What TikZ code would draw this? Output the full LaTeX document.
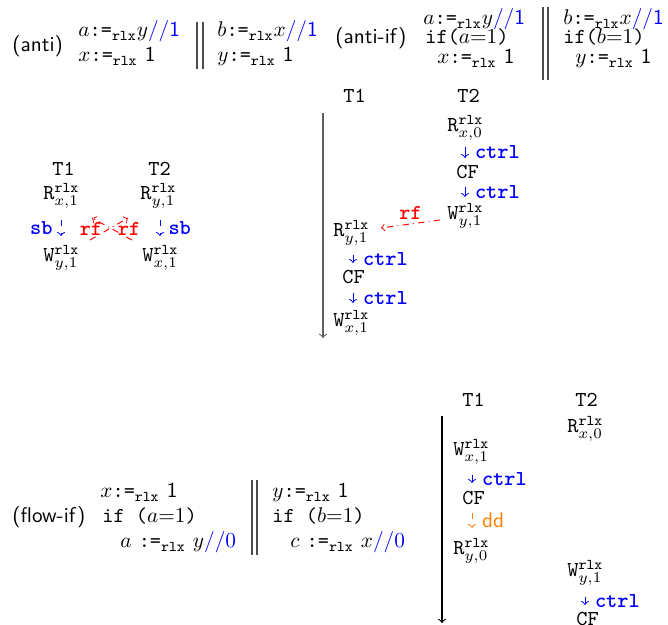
\documentclass[tikz,border=0pt]{standalone}
\usetikzlibrary{calc}
\definecolor{myorange}{RGB}{255,128,0}
\definecolor{tlgray}{RGB}{95,95,95}
\newcommand{\asgn}{\mbox{\texttt{:=}}_{\mathtt{rlx}}}
\newcommand{\evt}[3]{$\mathtt{#1}^{\mathtt{rlx}}_{#2,#3}$}
\begin{document}
\begin{tikzpicture}[x=0.47pt,y=-0.47pt,
  lbl/.style={anchor=base west,inner sep=0pt},
  prog/.style={lbl,font=\sffamily},
  bar/.style={black!70,line width=0.5pt},
  ctl/.style={->,blue,line width=0.45pt},
  ctllab/.style={right=4.5pt,inner sep=0pt,text=blue,font=\ttfamily\bfseries},
  sbarr/.style={->,blue,dashed,line width=0.45pt},
  sblab/.style={inner sep=0pt,text=blue,font=\ttfamily\bfseries},
  rfarr/.style={->,red,dash dot,line width=0.45pt},
  rflab/.style={inner sep=0pt,text=red,font=\ttfamily\bfseries},
  ddarr/.style={->,myorange,dashed,line width=0.45pt},
  ddlab/.style={right=4.5pt,inner sep=0pt,text=myorange,font=\sffamily},
  tline/.style={->,line width=0.5pt}]
\useasboundingbox (0,0) rectangle (668,625);

% ---------- (anti) program
\node[prog] (antin) at (12,52) {(anti)};
\node[lbl] (antia1) at (78,37) {$a\asgn y$\textcolor{blue}{$//$\textsf{1}}};
\node[lbl] (antia2) at (78,62) {$x\asgn$ \textsf{1}};
\draw[bar] (197,22) -- (197,69);
\draw[bar] (203,22) -- (203,69);
\node[lbl] (antib1) at (217,37) {$b\asgn x$\textcolor{blue}{$//$\textsf{1}}};
\node[lbl] (antib2) at (217,62) {$y\asgn$ \textsf{1}};

% ---------- (anti-if) program
\node[prog] (aifn) at (335,44) {(anti-if)};
\node[lbl] (aifa1) at (423,25) {$a\asgn y$\textcolor{blue}{$//$\textsf{1}}};
\node[lbl] (aifa2) at (425,44) {\texttt{if(}$a$=1\texttt{)}};
\node[lbl] (aifa3) at (437,64) {$x\asgn$ \textsf{1}};
\draw[bar] (543,7) -- (543,80);
\draw[bar] (548,7) -- (548,80);
\node[lbl] (aifb1) at (563,25) {$b\asgn x$\textcolor{blue}{$//$\textsf{1}}};
\node[lbl] (aifb2) at (563,44) {\texttt{if(}$b$=1\texttt{)}};
\node[lbl] (aifb3) at (575,64) {$y\asgn$ \textsf{1}};

% ---------- (anti) execution
\node[lbl] (lt1) at (52,176) {\texttt{T1}};
\node[lbl] (lt2) at (148,176) {\texttt{T2}};
\node[lbl] (lrx) at (43,200) {\evt{R}{x}{1}};
\node[lbl] (lwy) at (43,262) {\evt{W}{y}{1}};
\node[lbl] (lry) at (140,200) {\evt{R}{y}{1}};
\node[lbl] (lwx) at (142,262) {\evt{W}{x}{1}};
\draw[sbarr] ($(lrx.base west)+(18,20)$) -- ($(lwy.base west)+(18,-26)$)
  node[midway,left=3.8pt,sblab] {sb};
\draw[sbarr] ($(lry.base west)+(20,20)$) -- ($(lwx.base west)+(18,-26)$)
  node[midway,right=3.8pt,sblab] {sb};
\draw[rfarr] ($(lwx.base west)+(-10,-22)$) -- ($(lrx.base west)+(49,18)$)
  node[midway,xshift=-9.9pt,rflab] {rf};
\draw[rfarr] ($(lwy.base west)+(47,-22)$) -- ($(lry.base west)+(-12,18)$)
  node[midway,xshift=9.4pt,rflab] {rf};

% ---------- (anti-if) execution
\node[lbl] (mt1) at (343,103) {\texttt{T1}};
\node[lbl] (mt2) at (457,103) {\texttt{T2}};
\coordinate (mtls) at (323,113);
\coordinate (mtle) at (323,338);
\draw[tline,tlgray] (mtls) -- (mtle);
\node[lbl] (mrx) at (447,132) {\evt{R}{x}{0}};
\node[lbl] (mcf2) at (456,179) {\texttt{CF}};
\node[lbl] (mwy) at (447,220) {\evt{W}{y}{1}};
\node[lbl] (mry) at (333,237) {\evt{R}{y}{1}};
\node[lbl] (mcf1) at (342,284) {\texttt{CF}};
\node[lbl] (mwx) at (333,327) {\evt{W}{x}{1}};
\draw[ctl] ($(mrx.base west)+(18,15)$) -- ($(mcf2.base west)+(9,-21)$)
  node[midway,ctllab] {ctrl};
\draw[ctl] ($(mcf2.base west)+(9,8)$) -- ($(mwy.base west)+(18,-23)$)
  node[midway,ctllab] {ctrl};
\draw[ctl] ($(mry.base west)+(20,18)$) -- ($(mcf1.base west)+(11,-21)$)
  node[midway,ctllab] {ctrl};
\draw[ctl] ($(mcf1.base west)+(11,9)$) -- ($(mwx.base west)+(20,-24)$)
  node[midway,ctllab] {ctrl};
\draw[rfarr] ($(mwy.base west)+(-7,0)$) -- ($(mry.base west)+(48,-9)$)
  node[midway,above=2pt,rflab] {rf};

% ---------- (flow-if) program
\node[prog] (fin) at (12,523) {(flow-if)};
\node[lbl] (fia1) at (100,498) {$x\asgn$ \textsf{1}};
\node[lbl] (fia2) at (102,523) {\texttt{if (}$a$=1\texttt{)}};
\node[lbl] (fia3) at (120,548) {$a$ $\asgn$ $y$\textcolor{blue}{$//0$}};
\draw[bar] (252,480) -- (252,555);
\draw[bar] (257,480) -- (257,555);
\node[lbl] (fib1) at (272,498) {$y\asgn$ \textsf{1}};
\node[lbl] (fib2) at (272,523) {\texttt{if (}$b$=1\texttt{)}};
\node[lbl] (fib3) at (290,548) {$c$ $\asgn$ $x$\textcolor{blue}{$//0$}};

% ---------- (flow-if) execution
\node[lbl] (bt1) at (462,407) {\texttt{T1}};
\node[lbl] (bt2) at (575,407) {\texttt{T2}};
\coordinate (btls) at (442,416);
\coordinate (btle) at (442,623);
\draw[tline] (btls) -- (btle);
\node[lbl] (brx) at (567,433) {\evt{R}{x}{0}};
\node[lbl] (bwx) at (453,456) {\evt{W}{x}{1}};
\node[lbl] (bcf1) at (462,505) {\texttt{CF}};
\node[lbl] (bry) at (453,555) {\evt{R}{y}{0}};
\node[lbl] (bwy) at (567,577) {\evt{W}{y}{1}};
\node[lbl] (bcf2) at (576,626) {\texttt{CF}};
\draw[ctl] ($(bwx.base west)+(19,19)$) -- ($(bcf1.base west)+(10,-22)$)
  node[midway,ctllab] {ctrl};
\draw[ddarr] ($(bcf1.base west)+(10,8)$) -- ($(bry.base west)+(19,-27)$)
  node[midway,ddlab] {dd};
\draw[ctl] ($(bwy.base west)+(18,20)$) -- ($(bcf2.base west)+(9,-21)$)
  node[midway,ctllab] {ctrl};
\end{tikzpicture}
\end{document}
